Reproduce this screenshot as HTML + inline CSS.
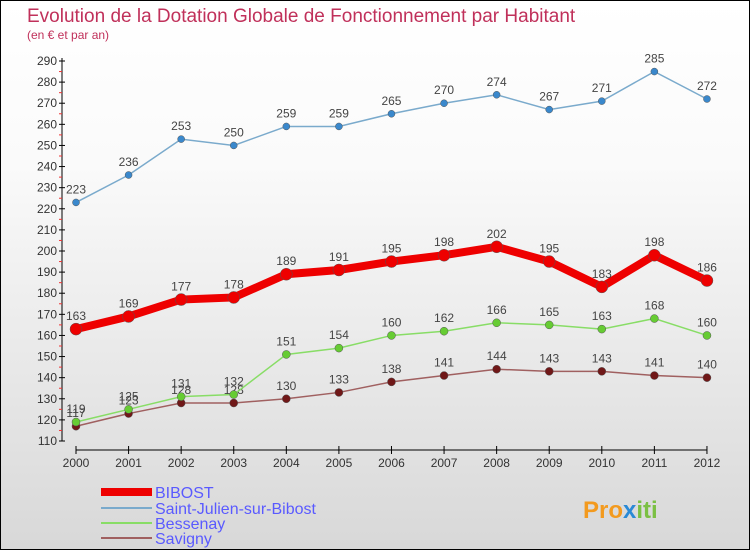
<!DOCTYPE html>
<html><head><meta charset="utf-8"><style>
body{margin:0}
#c{width:748px;height:548px;border:1px solid #000;background:linear-gradient(#fff,#fafafa 30%,#d8d8d8);position:relative;font-family:"Liberation Sans",sans-serif;overflow:hidden}
</style></head><body>
<div id="c">
<svg id="s" width="748" height="548" xmlns="http://www.w3.org/2000/svg">
<text x="26" y="21" font-size="19" fill="#c0305a">Evolution de la Dotation Globale de Fonctionnement par Habitant</text>
<text x="26" y="38" font-size="12" fill="#c0305a">(en € et par an)</text>
<g id="g"></g>
<g>
<rect x="100" y="487" width="51" height="8" fill="#e00"/>
<text x="154" y="497" font-size="16" fill="#5a5aff">BIBOST</text>
<rect x="100" y="506" width="51" height="2" fill="#7aaacc"/>
<text x="154" y="513" font-size="16" fill="#5a5aff">Saint-Julien-sur-Bibost</text>
<rect x="100" y="521" width="51" height="2" fill="#88dd66"/>
<text x="154" y="528" font-size="16" fill="#5a5aff">Bessenay</text>
<rect x="100" y="536" width="51" height="2" fill="#a06060"/>
<text x="154" y="543" font-size="16" fill="#5a5aff">Savigny</text>
</g>
<text x="582" y="517" font-size="24" font-weight="bold" fill="#f39a1e">Pro<tspan fill="#2a8ad6">x</tspan><tspan fill="#7bc043">iti</tspan></text>
</svg></div>
<script>
const years=[2000,2001,2002,2003,2004,2005,2006,2007,2008,2009,2010,2011,2012];
const bibost=[163,169,177,178,189,191,195,198,202,195,183,198,186];
const stjulien=[223,236,253,250,259,259,265,270,274,267,271,285,272];
const bessenay=[119,125,131,132,151,154,160,162,166,165,163,168,160];
const savigny=[117,123,128,128,130,133,138,141,144,143,143,141,140];
const yTicks=[110,120,130,140,150,160,170,180,190,200,210,220,230,240,250,260,270,280,290];
const NS="http://www.w3.org/2000/svg",g=document.getElementById('g');
const X=i=>75+i*52.58, Y=v=>440-(v-110)*(380/180);
function mk(t,a,p){const e=document.createElementNS(NS,t);for(const k in a)e.setAttribute(k,a[k]);(p||g).appendChild(e);return e;}
let ax=mk('line',{x1:61,y1:57,x2:61,y2:440,stroke:'#000'});


yTicks.forEach(v=>{mk('line',{x1:58,x2:64,y1:Y(v),y2:Y(v),stroke:'#000'});
mk('line',{x1:58,x2:61,y1:Y(v+5),y2:Y(v+5),stroke:v<290?'#e33':'none'});
const t=mk('text',{x:56,y:Y(v)+4,'font-size':12,fill:'#333','text-anchor':'end'});t.textContent=v;

});
let xa=mk('line',{x1:75,y1:449,x2:706,y2:449,stroke:'#000'});


years.forEach((y,i)=>{mk('line',{x1:X(i),x2:X(i),y1:445,y2:453,stroke:'#000'});
const t=mk('text',{x:X(i),y:466,'font-size':12,fill:'#333','text-anchor':'middle'});t.textContent=y;

});
function series(d,col,dot,w,r,name){
const p=mk('polyline',{points:d.map((v,i)=>X(i)+','+Y(v)).join(' '),fill:'none',stroke:col,'stroke-width':w});


d.forEach((v,i)=>{const c=mk('circle',{cx:X(i),cy:Y(v),r:r,fill:dot,stroke:'#555','stroke-width':0.5});


const t=mk('text',{x:X(i),y:Y(v)-9,'font-size':12,fill:'#444','text-anchor':'middle'});t.textContent=v;

});}
series(savigny,'#a06060','#701818',1.5,4,'savigny');
series(bessenay,'#88dd66','#66cc33',1.5,4,'bessenay');
series(stjulien,'#7aaacc','#3a88cc',1.5,3.5,'saint-julien');
series(bibost,'#e00','#e00',8,6,'bibost');
</script>
</body></html>
